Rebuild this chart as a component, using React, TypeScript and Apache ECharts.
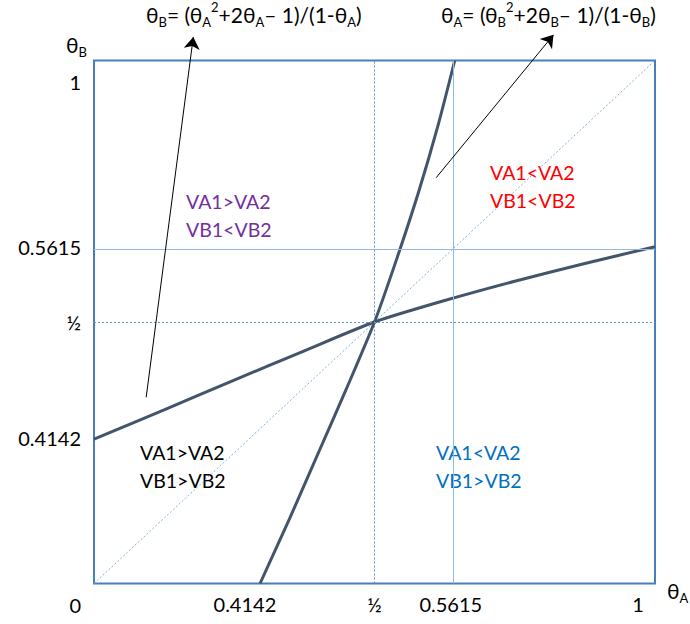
import React, { useEffect, useRef } from "react";
import * as echarts from "echarts";

// Schematic coordinates (0..1 on both axes, as drawn in the reference)
const flatCurveX = [0, 0.125, 0.25, 0.375, 0.5, 0.625, 0.75, 0.875, 1];
const flatCurveY = [0.276, 0.332, 0.389, 0.445, 0.5, 0.541, 0.578, 0.612, 0.644];
const steepCurveX = [0.296, 0.349, 0.4, 0.451, 0.5, 0.541, 0.579, 0.613, 0.643];
const steepCurveY = [0, 0.125, 0.25, 0.375, 0.5, 0.625, 0.75, 0.875, 1];

const diagonalX = [0, 1];
const diagonalY = [0, 1];

const halfValue = 0.5;
const crossValue = 0.644;

const arrowFrom = [
  [0.093, 0.356],
  [0.61, 0.776],
];
const arrowTo = [
  [0.177, 1.045],
  [0.819, 1.049],
];

const xLabelValues = [0.269, 0.5, 0.636, 0.97];
const xLabelTexts = ["0.4142", "½", "0.5615", "1"];
const yLabelValues = [0, 0.278, 0.5, 0.644, 0.959];
const yLabelTexts = ["0", "0.4142", "½", "0.5615", "1"];

const regionLines = [
  ["VA1>VA2", "VB1<VB2"],
  ["VA1<VA2", "VB1<VB2"],
  ["VA1>VA2", "VB1>VB2"],
  ["VA1<VA2", "VB1>VB2"],
];
const regionColors = ["#7030A0", "#FF0000", "#000000", "#0070C0"];

export default function App() {
  const ref = useRef<HTMLDivElement>(null);

  useEffect(() => {
    if (!ref.current) return;
    const chart = echarts.init(ref.current, null, { renderer: "svg" });
    const font = "Lato, 'Open Sans', sans-serif";

    const pick = (vals: number[], texts: string[], v: number) => {
      const i = vals.findIndex((a) => Math.abs(a - v) < 1e-6);
      return i >= 0 ? texts[i] : "";
    };

    const m = { fontSize: 21, lineHeight: 28, verticalAlign: "middle", fontFamily: font, fill: "#000" };
    const s = { fontSize: 13, lineHeight: 13, verticalAlign: "bottom", fontFamily: font, fill: "#000" };
    const p = { fontSize: 13, lineHeight: 13, verticalAlign: "top", fontFamily: font, fill: "#000" };
    const rich = { m, s, p };

    const regionPos = [
      [186, 187],
      [490, 158],
      [140, 438],
      [436, 438],
    ];

    const option: any = {
      animation: false,
      grid: {
        left: 94,
        top: 60.5,
        right: 35,
        bottom: 40.5,
        show: true,
        borderColor: "#4A7EBB",
        borderWidth: 2,
        backgroundColor: "transparent",
      },
      xAxis: {
        type: "value",
        min: 0,
        max: 1,
        axisLine: { show: false },
        axisTick: { show: false },
        splitLine: { show: false },
        axisLabel: {
          customValues: xLabelValues,
          formatter: (v: number) => pick(xLabelValues, xLabelTexts, v),
          margin: 10,
          fontSize: 20,
          fontFamily: font,
          color: "#000",
        },
      },
      yAxis: {
        type: "value",
        min: 0,
        max: 1,
        axisLine: { show: false },
        axisTick: { show: false },
        splitLine: { show: false },
        axisLabel: {
          customValues: yLabelValues,
          formatter: (v: number) => {
            const t = pick(yLabelValues, yLabelTexts, v);
            return v === 0 ? "{o|" + t + "}" : t;
          },
          margin: 13,
          fontSize: 20,
          fontFamily: font,
          color: "#000",
          rich: { o: { padding: [42, 0, 0, 0], fontSize: 20, fontFamily: font, color: "#000" } },
        },
      },
      series: [
        {
          type: "line",
          name: "diagonal",
          data: diagonalX.map((x, i) => [x, diagonalY[i]]),
          symbol: "none",
          silent: true,
          z: 1,
          lineStyle: { color: "#7FB2E5", width: 1, type: [2, 2] },
          markLine: {
            silent: true,
            symbol: "none",
            label: { show: false },
            animation: false,
            data: [
              { xAxis: halfValue, lineStyle: { color: "#5B8CC8", width: 1, type: [2, 2] } },
              { yAxis: halfValue, lineStyle: { color: "#5B9BD5", width: 1, type: [2, 2] } },
              { xAxis: crossValue, lineStyle: { color: "#8DBBE8", width: 1, type: "solid" } },
              { yAxis: crossValue, lineStyle: { color: "#8DBBE8", width: 1, type: "solid" } },
            ],
          },
        },
        {
          type: "line",
          name: "flat",
          data: flatCurveX.map((x, i) => [x, flatCurveY[i]]),
          symbol: "none",
          smooth: 0.25,
          silent: true,
          z: 3,
          lineStyle: { color: "#44546A", width: 3 },
        },
        {
          type: "line",
          name: "steep",
          data: steepCurveX.map((x, i) => [x, steepCurveY[i]]),
          symbol: "none",
          smooth: 0.25,
          silent: true,
          z: 3,
          lineStyle: { color: "#44546A", width: 3 },
        },
        {
          type: "lines",
          coordinateSystem: "cartesian2d",
          clip: false,
          silent: true,
          z: 5,
          symbol: ["none", "arrow"],
          symbolSize: [9, 12],
          lineStyle: { color: "#000", width: 1, opacity: 1 },
          data: arrowFrom.map((f, i) => ({ coords: [f, arrowTo[i]] })),
        },
      ],
      graphic: [
        {
          type: "text",
          x: 146,
          y: 14,
          silent: true,
          style: {
            text: "{m|θ}{s|B}{m|= (θ}{s|A}{p|2}{m|+2θ}{s|A}{m|– 1)/(1-θ}{s|A}{m|)}",
            rich,
            align: "left",
            verticalAlign: "middle",
          },
        },
        {
          type: "text",
          x: 441,
          y: 14,
          silent: true,
          style: {
            text: "{m|θ}{s|A}{m|= (θ}{s|B}{p|2}{m|+2θ}{s|B}{m|– 1)/(1-θ}{s|B}{m|)}",
            rich,
            align: "left",
            verticalAlign: "middle",
          },
        },
        {
          type: "text",
          x: 66,
          y: 44,
          silent: true,
          style: { text: "{m|θ}{s|B}", rich, align: "left", verticalAlign: "middle" },
        },
        {
          type: "text",
          x: 667,
          y: 590,
          silent: true,
          style: { text: "{m|θ}{s|A}", rich, align: "left", verticalAlign: "middle" },
        },
        ...regionLines.map((lines, i) => ({
          type: "text",
          x: regionPos[i][0],
          y: regionPos[i][1],
          silent: true,
          style: {
            text: lines.join("\n"),
            fill: regionColors[i],
            fontSize: 19.5,
            lineHeight: 28,
            fontFamily: font,
            align: "left",
            verticalAlign: "top",
          },
        })),
      ],
    };

    chart.setOption(option);
    return () => chart.dispose();
  }, []);

  return (
    <div
      ref={ref}
      style={{ position: "absolute", left: 0, top: 0, width: 690, height: 624, background: "#fff" }}
    />
  );
}
